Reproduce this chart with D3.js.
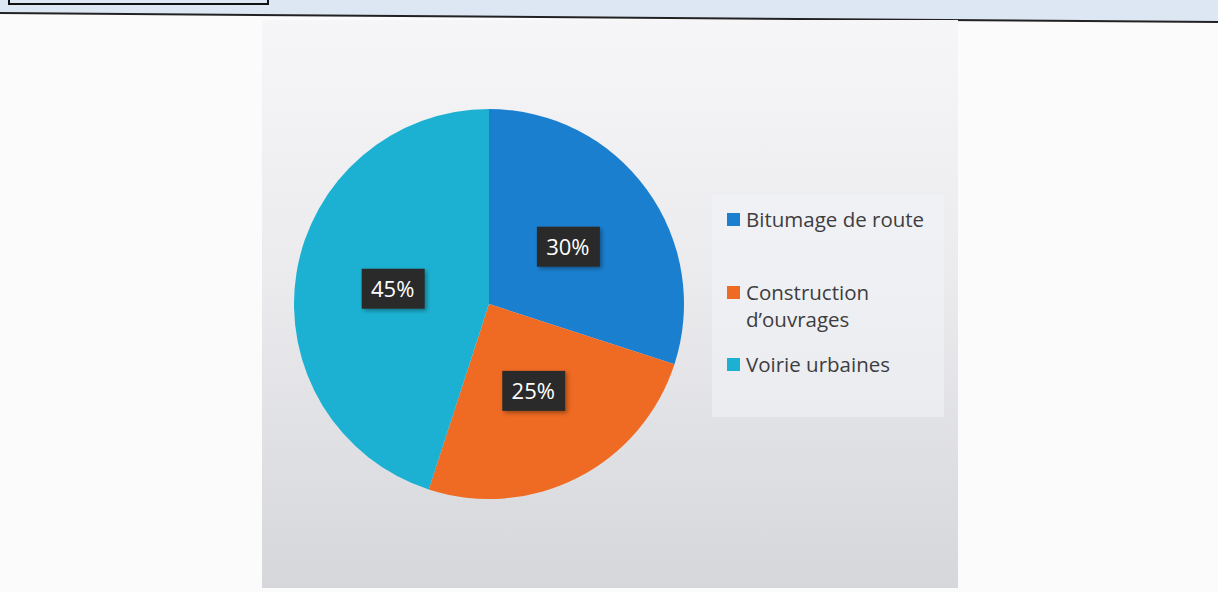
<!DOCTYPE html>
<html>
<head>
<meta charset="utf-8">
<script src="https://cdn.jsdelivr.net/npm/d3@7"></script>
<style>
  body { margin: 0; background: #fbfbfc; }
  svg { display: block; }
</style>
</head>
<body>
<div id="chart"></div>
<script>
// data
var categories = ["Bitumage de route", "Construction d\u2019ouvrages", "Voirie urbaines"];
var shares = [30, 25, 45];
var colors = ["#1b7fd0", "#ef6a22", "#1cb1d2"];
var legendLines = [["Bitumage de route"], ["Construction", "d\u2019ouvrages"], ["Voirie urbaines"]];

var width = 1218, height = 592;
var svg = d3.select("#chart").append("svg")
  .attr("width", width).attr("height", height);

var defs = svg.append("defs");
var grad = defs.append("linearGradient").attr("id", "panelGrad")
  .attr("x1", 0).attr("y1", 0).attr("x2", 0).attr("y2", 1);
grad.append("stop").attr("offset", "0%").attr("stop-color", "#f6f6f8");
grad.append("stop").attr("offset", "45%").attr("stop-color", "#ebebee");
grad.append("stop").attr("offset", "100%").attr("stop-color", "#d6d7db");

var shadow = defs.append("filter").attr("id", "lblShadow")
  .attr("x", "-30%").attr("y", "-30%").attr("width", "160%").attr("height", "160%");
shadow.append("feDropShadow").attr("dx", 2).attr("dy", 2).attr("stdDeviation", 2)
  .attr("flood-color", "#000").attr("flood-opacity", 0.35);

// page header band (scanned document)
svg.append("path")
  .attr("d", "M0,0 L1218,0 L1218,22 L0,13 Z")
  .style("fill", "#dde7f4");
svg.append("line")
  .attr("x1", 0).attr("y1", 13).attr("x2", 1218).attr("y2", 22)
  .style("stroke", "#222").style("stroke-width", 2);
svg.append("path")
  .attr("d", "M9,0 L9,4 L268,4 L268,0")
  .style("fill", "none").style("stroke", "#111").style("stroke-width", 2);

// chart panel
var panel = {x: 262, y: 20, w: 696, h: 568};
svg.append("rect")
  .attr("x", panel.x).attr("y", panel.y)
  .attr("width", panel.w).attr("height", panel.h)
  .style("fill", "url(#panelGrad)");

// legend background
svg.append("rect")
  .attr("x", 712).attr("y", 195).attr("width", 232).attr("height", 222)
  .style("fill", "#f3f4f7").style("opacity", 0.55);

// pie
var cx = 489, cy = 304, r = 195;
var pie = d3.pie().sort(null).value(function(d){ return d; });
var arc = d3.arc().innerRadius(0).outerRadius(r);
var labelArc = d3.arc().innerRadius(r * 0.5).outerRadius(r * 0.5);

var g = svg.append("g").attr("transform", "translate(" + cx + "," + cy + ")");
var arcs = pie(shares);

g.selectAll("path.slice").data(arcs).enter().append("path")
  .attr("class", "slice")
  .attr("d", arc)
  .style("fill", function(d, i){ return colors[i]; });

var lbl = g.selectAll("g.lbl").data(arcs).enter().append("g")
  .attr("class", "lbl")
  .attr("transform", function(d){ return "translate(" + labelArc.centroid(d) + ")"; });
lbl.append("rect")
  .attr("x", -31).attr("y", -20).attr("width", 63).attr("height", 40)
  .style("fill", "#2b2b2c")
  .attr("filter", "url(#lblShadow)");
lbl.append("text")
  .attr("y", 8)
  .attr("text-anchor", "middle")
  .style("font-family", "'Open Sans', sans-serif")
  .style("font-size", "22px")
  .style("fill", "#ffffff")
  .text(function(d){ return d.data + "%"; });

// legend
var legendY = [227, 300, 372];
var leg = svg.selectAll("g.leg").data(categories).enter().append("g")
  .attr("class", "leg")
  .attr("transform", function(d, i){ return "translate(727," + legendY[i] + ")"; });
leg.append("rect")
  .attr("x", 0).attr("y", -14).attr("width", 13).attr("height", 13)
  .style("fill", function(d, i){ return colors[i]; });
leg.each(function(d, i){
  var t = d3.select(this).append("text")
    .style("font-family", "'Open Sans', sans-serif")
    .style("font-size", "20.5px")
    .style("fill", "#3d3d40");
  legendLines[i].forEach(function(line, j){
    t.append("tspan").attr("x", 19).attr("dy", j === 0 ? 0 : 27).text(line);
  });
});
</script>
</body>
</html>
